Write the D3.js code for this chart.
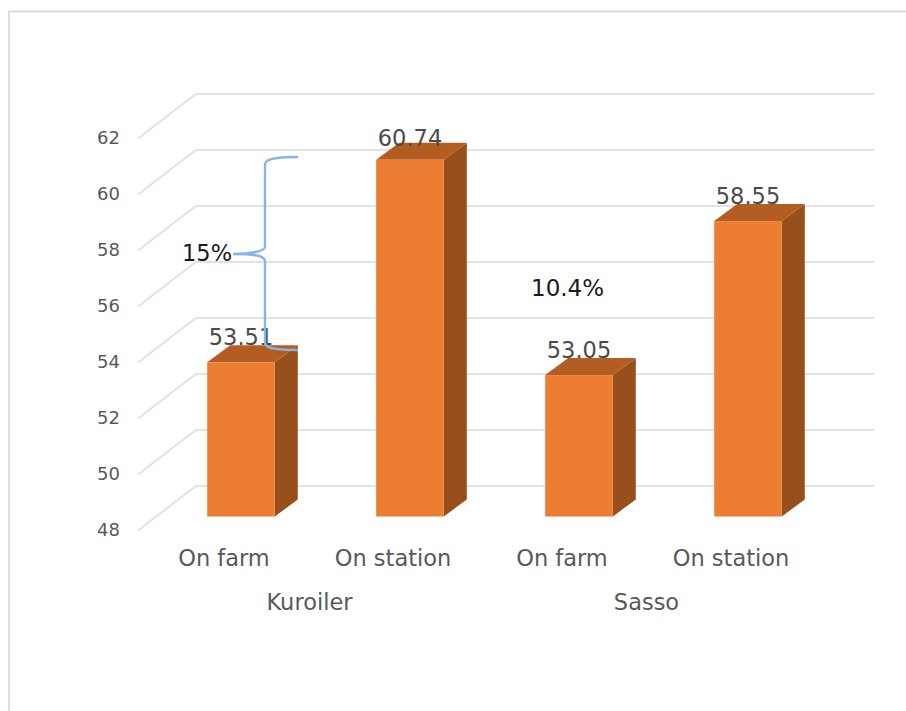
<!DOCTYPE html>
<html>
<head>
<meta charset="utf-8">
<script src="https://cdn.jsdelivr.net/npm/d3@7"></script>
<style>
  html, body { margin: 0; padding: 0; background: #fff; }
  svg { display: block; }
  text { font-family: "DejaVu Sans", sans-serif; }
</style>
</head>
<body>
<svg id="chart" width="906" height="711"></svg>
<script>
// Final weight by breed and rearing site
const breeds = ["Kuroiler", "Sasso"];
const sites = ["On farm", "On station", "On farm", "On station"];
const barKeys = ["Kuroiler|On farm", "Kuroiler|On station", "Sasso|On farm", "Sasso|On station"];
const weights = [53.51, 60.74, 53.05, 58.55];
const yTicks = [48, 50, 52, 54, 56, 58, 60, 62];
const gains = ["15%", "10.4%"];

const svg = d3.select("#chart");
const barData = barKeys.map((k, i) => ({ k, v: weights[i], i }));

// Frame around the chart area
svg.append("path")
  .attr("d", "M9,711V11.5H906")
  .attr("fill", "none").attr("stroke", "#dcdcdc").attr("stroke-width", 2);

// Value scale on the bar fronts; the side wall and back wall are offset from it
const y = d3.scaleLinear().domain([48, 62]).range([516.5, 124.5]);
const x = d3.scaleBand().domain(barKeys).range([156.5, 832.5]).paddingInner(0.6).paddingOuter(0.3);

const wallX = { front: 138, back: 196, right: 874 };
const wallY = { front: 14, back: -30.5 };
const depth = { dx: 23, dy: -17 };

// Gridlines: a diagonal on the side wall, then a horizontal on the back wall
svg.append("g").attr("fill", "none").attr("stroke", "#e2e2e2").attr("stroke-width", 2)
  .selectAll("path").data(yTicks).join("path")
  .attr("d", d => `M${wallX.front},${y(d) + wallY.front}L${wallX.back},${y(d) + wallY.back}H${wallX.right}`);

// Value axis labels
svg.append("g").selectAll("text").data(yTicks).join("text")
  .attr("x", 120).attr("y", d => y(d) + 19.5)
  .attr("text-anchor", "end").attr("font-size", 18).attr("fill", "#595959")
  .text(d => d);

// Bars as three faces: side, top, front
const bars = svg.append("g").selectAll("g").data(barData).join("g");
bars.append("path").attr("fill", "#97501c")
  .attr("d", d => {
    const r = x(d.k) + x.bandwidth();
    return `M${r},${y(48)}l${depth.dx},${depth.dy}V${y(d.v) + depth.dy}l${-depth.dx},${-depth.dy}Z`;
  });
bars.append("path").attr("fill", "#b35d22")
  .attr("d", d => {
    const l = x(d.k), t = y(d.v);
    return `M${l},${t}l${depth.dx},${depth.dy}h${x.bandwidth()}l${-depth.dx},${-depth.dy}Z`;
  });
bars.append("rect").attr("fill", "#ed7d31")
  .attr("x", d => x(d.k)).attr("width", x.bandwidth())
  .attr("y", d => y(d.v)).attr("height", d => y(48) - y(d.v));

// Value labels above each bar; the tallest bar's label sits a little lower
svg.append("g").selectAll("text").data(barData).join("text")
  .attr("x", d => x(d.k) + x.bandwidth() / 2)
  .attr("y", d => y(d.v) - (d.v > 60 ? 13.5 : 16.8))
  .attr("text-anchor", "middle").attr("font-size", 22.5).attr("fill", "#4a4a4a")
  .text(d => d.v.toFixed(2));

// Site labels
svg.append("g").selectAll("text").data(barData).join("text")
  .attr("x", d => x(d.k) + x.bandwidth() / 2 - 17)
  .attr("y", 566)
  .attr("text-anchor", "middle").attr("font-size", 22.5).attr("fill", "#595959")
  .text(d => sites[d.i]);

// Breed labels below each pair of bars
svg.append("g").selectAll("text").data(breeds).join("text")
  .attr("x", (d, i) => [309.5, 646.5][i]).attr("y", 610)
  .attr("text-anchor", "middle").attr("font-size", 22.5).attr("fill", "#595959")
  .text(d => d);

// Brace spanning the on-farm to on-station gap
svg.append("path").attr("fill", "none").attr("stroke", "#85b7e6").attr("stroke-width", 2.4)
  .attr("d", "M298,157C285,157 271,158 267,161Q265,162 265,166V247C265,251 250,254 233,254C250,254 265,255 265,261V343C265,348 275,350 298,350");

// Percentage gain annotations
svg.append("text").attr("x", 182).attr("y", 261).attr("font-size", 22.5).attr("fill", "#1a1a1a").text(gains[0]);
svg.append("text").attr("x", 531).attr("y", 296).attr("font-size", 23).attr("fill", "#1a1a1a").text(gains[1]);
</script>
</body>
</html>
